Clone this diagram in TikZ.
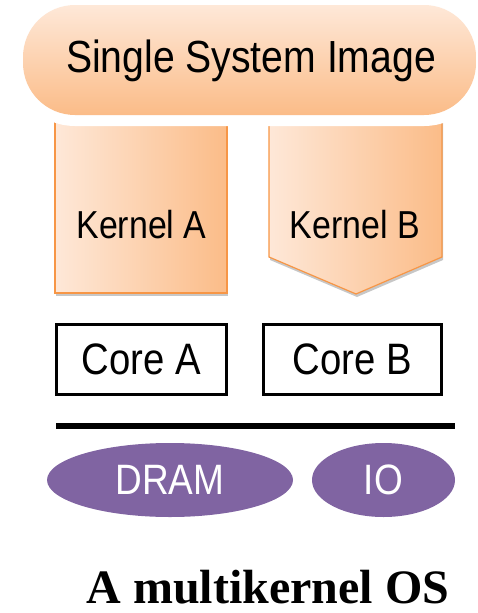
\documentclass[tikz,border=0pt]{standalone}
\usepackage{fontspec}
\setmainfont{Liberation Serif}
\newfontfamily\labelfont[FakeStretch=0.87]{Liberation Sans}
\usetikzlibrary{shapes.geometric,shadows}

\definecolor{peachlight}{HTML}{FEE8D8}
\definecolor{peachdark}{HTML}{FBBC88}
\definecolor{kernelline}{HTML}{F79646}
\definecolor{memviolet}{HTML}{8064A2}

\tikzset{
  lbl/.style={font=\labelfont\fontsize{#1}{#1}\selectfont},
  kernelshape/.style={draw=kernelline, line width=1.2pt,
    left color=peachlight, right color=peachdark,
    drop shadow={shadow xshift=1pt, shadow yshift=-3pt, opacity=0.22, fill=black}},
  corebox/.style={draw=black, line width=3pt, fill=white, rectangle,
    inner sep=0pt, minimum height=70pt, lbl=44},
  memory/.style={ellipse, fill=memviolet, text=white, inner sep=0pt,
    minimum height=74pt, lbl=42.5},
}

\begin{document}
\begin{tikzpicture}[x=1pt,y=1pt]
\useasboundingbox (0,0) rectangle (477,-613);

% kernels, tops tucked behind the image banner
\path[kernelshape] (55,-118) rectangle (227,-293);
\path[kernelshape] (269,-118) -- (442,-118) -- (442,-257) -- (356,-294)
  -- (269,-257) -- cycle;
\node[lbl=39] (kerA) at (141.5,-225) {Kernel A};
\node[lbl=39] (kerB) at (355,-225) {Kernel B};

% single system image banner with white halo
\draw[white, line width=22pt, rounded corners=52pt] (23,-5) rectangle (476,-115);
\path[top color=peachlight, bottom color=peachdark, rounded corners=52pt]
  (23,-5) rectangle (476,-115);
\node[lbl=45] (ssi) at (251,-61) {Single System Image};

% cores
\node[corebox, minimum width=170pt] (coreA) at (141.5,-359.5) {Core A};
\node[corebox, minimum width=178pt] (coreB) at (352.5,-359.5) {Core B};

% interconnect
\coordinate (busL) at (56,-426);
\coordinate (busR) at (455,-426);
\draw[line width=5.5pt] (busL) -- (busR);

% memory and devices
\node[memory, minimum width=246pt] (dram) at (170,-480) {DRAM};
\node[memory, minimum width=143pt] (io) at (383.5,-480) {IO};

% caption
\node[font=\bfseries\fontsize{48}{48}\selectfont, anchor=base, inner sep=0pt]
  (cap) at (268,-603) {A multikernel OS};
\end{tikzpicture}
\end{document}
